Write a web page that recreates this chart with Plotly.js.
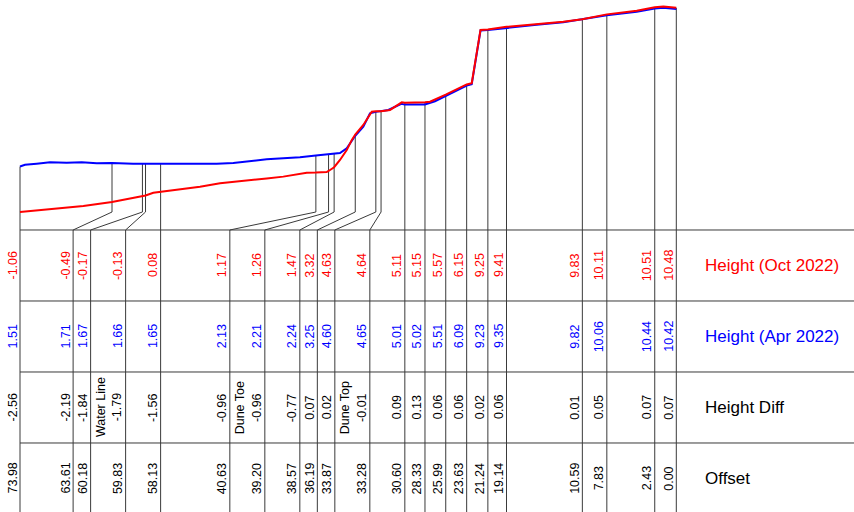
<!DOCTYPE html>
<html><head><meta charset="utf-8">
<script src="https://cdn.plot.ly/plotly-3.0.1.min.js"></script>
<style>html,body{margin:0;padding:0;background:#fff}#chart{width:854px;height:512px}</style>
</head><body><div id="chart"></div>
<script>
// ---- Profile data (offset m, height m) ----
const aprOffset = [73.98,73.42,72.10,70.60,68.72,67.02,65.33,63.61,61.24,60.18,59.83,58.13,55.61,53.69,51.81,49.94,48.05,46.17,44.30,42.42,40.63,39.20,38.57,37.91,37.15,36.41,36.19,35.28,34.53,33.87,33.28,32.46,31.00,30.60,29.07,28.33,27.20,25.99,24.84,23.63,23.06,22.07,21.24,19.14,15.74,12.74,10.59,7.83,4.46,2.43,1.46,0.00];
const aprHeight = [1.51,1.61,1.67,1.75,1.73,1.75,1.69,1.71,1.67,1.67,1.66,1.65,1.65,1.65,1.67,1.71,1.82,1.92,1.98,2.03,2.13,2.21,2.24,2.27,2.54,3.11,3.25,3.76,4.52,4.60,4.65,4.71,5.06,5.01,5.02,5.02,5.20,5.51,5.80,6.09,6.16,9.20,9.23,9.35,9.52,9.66,9.82,10.06,10.26,10.44,10.48,10.42];
const octOffset = [73.98,70.60,66.84,63.61,60.18,59.83,58.95,58.13,55.57,53.69,51.43,49.94,48.05,46.17,44.30,42.42,41.66,40.63,39.41,39.20,38.57,37.91,37.15,36.59,36.19,35.28,34.33,33.87,33.28,32.27,30.95,30.60,28.89,28.33,27.76,25.99,23.63,23.06,22.07,21.24,19.14,15.74,12.74,10.59,7.83,4.46,2.43,1.46,0.00];
const octHeight = [-1.06,-0.91,-0.72,-0.49,-0.17,-0.13,0.03,0.08,0.22,0.37,0.56,0.65,0.75,0.84,0.94,1.07,1.16,1.17,1.20,1.26,1.47,1.88,2.44,3.00,3.32,3.86,4.61,4.63,4.64,4.71,5.14,5.11,5.12,5.15,5.17,5.57,6.15,6.22,9.23,9.25,9.41,9.55,9.70,9.83,10.11,10.32,10.51,10.55,10.48];

// ---- Table stations ----
const stationOffset = [73.98,63.61,60.18,59.83,58.13,40.63,39.20,38.57,36.19,33.87,33.28,30.60,28.33,25.99,23.63,21.24,19.14,10.59,7.83,2.43,0.00];
const stationOct = [-1.06,-0.49,-0.17,-0.13,0.08,1.17,1.26,1.47,3.32,4.63,4.64,5.11,5.15,5.57,6.15,9.25,9.41,9.83,10.11,10.51,10.48];
const stationApr = [1.51,1.71,1.67,1.66,1.65,2.13,2.21,2.24,3.25,4.60,4.65,5.01,5.02,5.51,6.09,9.23,9.35,9.82,10.06,10.44,10.42];
const stationDiff = [-2.56,-2.19,-1.84,-1.79,-1.56,-0.96,-0.96,-0.77,0.07,0.02,-0.01,0.09,0.13,0.06,0.06,0.02,0.06,0.01,0.05,0.07,0.07];
const stationFeature = ["","","","Water Line","","","Dune Toe","","","","Dune Top","","","","","","","","","",""];
const rowLabels = ["Height (Oct 2022)","Height (Apr 2022)","Height Diff","Offset"];

// ---- Layout / style constants ----
const W = 854, H = 512;
const xRange = [76.235, -20.031];
const yRange = [-18.017, 10.923];
const TABLE_TOP = 0.5508, ROW_H = 0.13867;   // paper units
const GAP_SINGLE = 17.5, GAP_DOUBLE = 35;     // px
const FONT = "Liberation Sans, Arial, sans-serif";
const RED = "#ff0000", BLUE = "#0000ff", LINE = "#3a3a3a";
const rowColors = [RED, BLUE, "#000000", "#000000"];

const pxPerX = W / (xRange[0] - xRange[1]);
const yAt = p => yRange[0] + p * (yRange[1] - yRange[0]);

// label column positions: spread right-to-left so labels don't collide
const n = stationOffset.length;
const labelX = new Array(n);
labelX[n-1] = stationOffset[n-1];
for (let i = n - 2; i >= 0; i--) {
  const gap = (stationFeature[i] || stationFeature[i+1]) ? GAP_DOUBLE : GAP_SINGLE;
  labelX[i] = Math.max(stationOffset[i], labelX[i+1] + gap / pxPerX);
}

// leader lines
const bendH = Math.min(...octHeight, ...aprHeight);
const lx = [], ly = [];
for (let i = 0; i < n; i++) {
  const top = Math.max(stationOct[i], stationApr[i]);
  lx.push(stationOffset[i], stationOffset[i], labelX[i], labelX[i], null);
  ly.push(top, bendH, yAt(TABLE_TOP), yRange[0] - 1, null);
}

const traces = [
  {x: lx, y: ly, mode: "lines", line: {color: LINE, width: 1}, hoverinfo: "skip", connectgaps: false},
  {x: aprOffset, y: aprHeight, mode: "lines", line: {color: BLUE, width: 2}, name: "Apr 2022"},
  {x: octOffset, y: octHeight, mode: "lines", line: {color: RED, width: 2}, name: "Oct 2022"}
];

const shapes = [];
for (let r = 0; r < 4; r++) {
  const yy = yAt(TABLE_TOP - r * ROW_H);
  shapes.push({type: "line", xref: "x", yref: "y", x0: stationOffset[0], x1: xRange[1], y0: yy, y1: yy,
               line: {color: LINE, width: 1}});
}

const annotations = [];
for (let r = 0; r < 4; r++) {
  const yc = TABLE_TOP - (r + 0.5) * ROW_H;
  for (let i = 0; i < n; i++) {
    let txt, xs = -7;
    if (r === 0) txt = stationOct[i].toFixed(2);
    else if (r === 1) txt = stationApr[i].toFixed(2);
    else if (r === 2) {
      txt = stationDiff[i].toFixed(2);
      if (stationFeature[i]) { txt = stationFeature[i] + "<br>" + txt; xs = -16; }
    } else txt = stationOffset[i].toFixed(2);
    annotations.push({x: labelX[i], xref: "x", y: yc, yref: "paper", text: txt, textangle: -90,
      showarrow: false, xshift: xs, xanchor: "center", yanchor: "middle", align: "center",
      font: {family: FONT, size: 12.5, color: rowColors[r]}});
  }
  annotations.push({x: 703 / W, xref: "paper", y: yc, yref: "paper", text: rowLabels[r],
    showarrow: false, xanchor: "left", yanchor: "middle",
    font: {family: FONT, size: 17, color: rowColors[r]}});
}

const layout = {
  width: W, height: H, margin: {l: 0, r: 0, t: 0, b: 0},
  paper_bgcolor: "#ffffff", plot_bgcolor: "#ffffff", showlegend: false,
  xaxis: {range: xRange, visible: false, fixedrange: true},
  yaxis: {range: yRange, visible: false, fixedrange: true},
  shapes: shapes, annotations: annotations, font: {family: FONT}
};
Plotly.newPlot("chart", traces, layout, {staticPlot: true, displayModeBar: false});
</script></body></html>
